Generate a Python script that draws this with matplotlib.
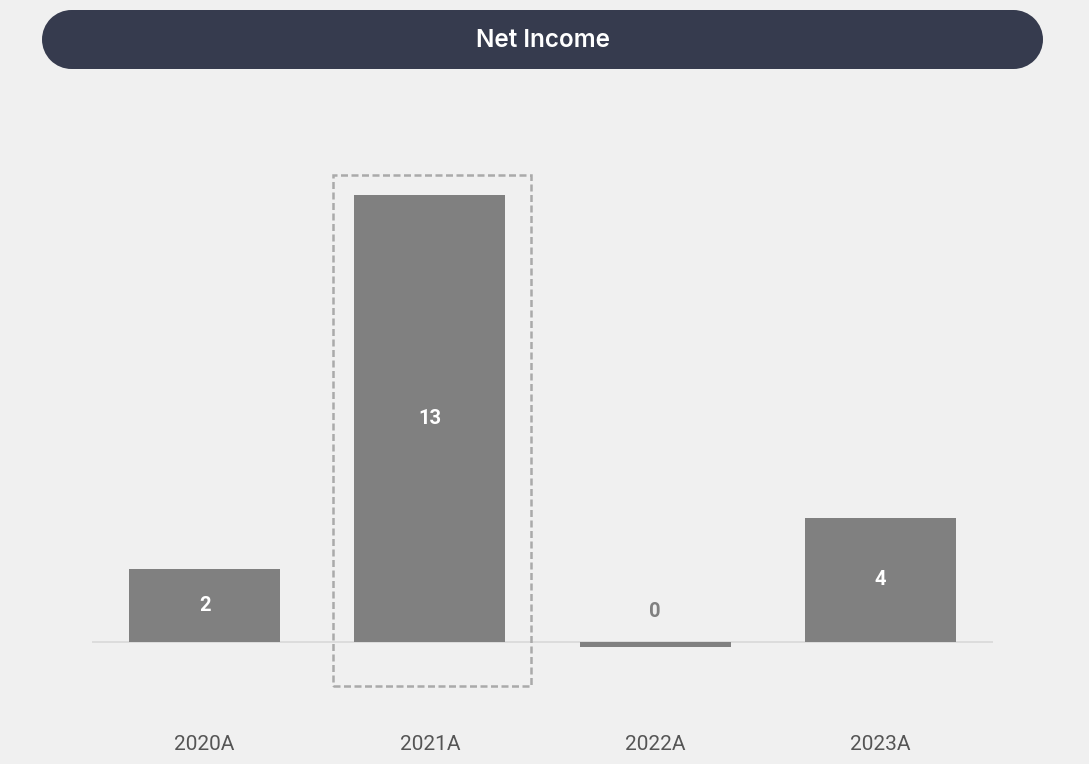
import matplotlib.pyplot as plt
from matplotlib.patches import Rectangle, Circle
from matplotlib.transforms import IdentityTransform

# data
years = ['2020A', '2021A', '2022A', '2023A']
net_income = [2.1, 13.0, -0.15, 3.6]
value_labels = ['2', '13', '0', '4']
highlight = 1

W, H = 1089, 764
bg = '#f0f0f0'
bar_color = '#808080'
header_color = '#363b4e'

fig = plt.figure(figsize=(W / 100, H / 100), dpi=100, facecolor=bg)

# header pill (pixel coords, origin bottom-left)
hx0, hx1, hy0, hy1 = 42, 1043, 10, 69
r = (hy1 - hy0) / 2
cy = H - (hy0 + hy1) / 2
ident = IdentityTransform()
fig.add_artist(Rectangle((hx0 + r, H - hy1), (hx1 - hx0) - 2 * r, hy1 - hy0,
                         facecolor=header_color, edgecolor='none', transform=ident))
fig.add_artist(Circle((hx0 + r, cy), r, facecolor=header_color,
                      edgecolor='none', transform=ident))
fig.add_artist(Circle((hx1 - r, cy), r, facecolor=header_color,
                      edgecolor='none', transform=ident))
fig.text((hx0 + hx1) / 2 / W, 1 - 40.5 / H, 'Net Income',
         color='white', fontsize=17.5, fontweight='semibold', family='Inter',
         ha='center', va='center')

# main axes (pixels: left 92, right 993, top 100, bottom 700)
ax = fig.add_axes([92 / W, 1 - 700 / H, (993 - 92) / W, 600 / H])
ax.set_facecolor(bg)
for s in ax.spines.values():
    s.set_visible(False)

x = list(range(len(years)))
width = 0.67
ax.bar(x, net_income, width, color=bar_color, zorder=3)
ax.axhline(0, color='#d9d9d9', lw=1.2, zorder=2)

ax.set_xlim(-0.5, 3.5)
ax.set_ylim(-1.70, 15.77)
ax.set_yticks([])
ax.set_xticks(x)
ax.set_xticklabels(years, fontsize=15, color='#555555', family='Roboto')
ax.tick_params(axis='x', length=0, pad=25)

for xi, v, lab in zip(x, net_income, value_labels):
    if v >= 1:
        ax.text(xi, v / 2, lab, ha='center', va='center', color='white',
                fontsize=14.5, fontweight='bold', family='Roboto', zorder=4)
    else:
        ax.text(xi, 0.88, lab, ha='center', va='center', color='#808080',
                fontsize=14.5, fontweight='bold', family='Roboto', zorder=4)

# dashed highlight box around the 2021A bar
pad_x = 0.105
rect = Rectangle((highlight - width / 2 - pad_x + 0.008, -1.29),
                 width + 2 * pad_x, net_income[highlight] + 0.59 + 1.29,
                 fill=False, edgecolor='#aaaaaa', lw=1.8, ls=(0, (2.8, 1.4)),
                 zorder=5, clip_on=False)
ax.add_patch(rect)

fig.savefig('out.png', dpi=100, facecolor=bg)
